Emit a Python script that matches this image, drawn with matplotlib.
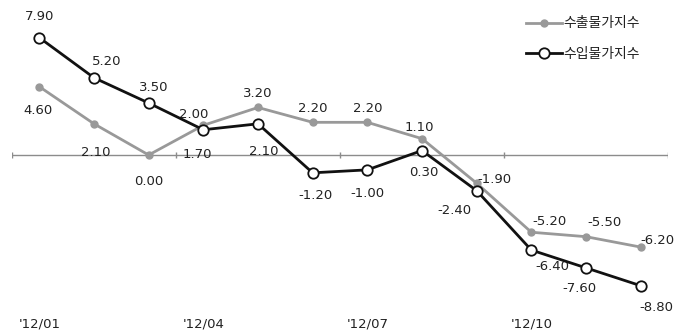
import matplotlib
matplotlib.use("Agg")
import matplotlib.pyplot as plt

plt.rcParams['font.family'] = ['DejaVu Sans', 'Noto Sans CJK KR']

# data
months = ["'12/01", "'12/02", "'12/03", "'12/04", "'12/05", "'12/06",
          "'12/07", "'12/08", "'12/09", "'12/10", "'12/11", "'12/12"]
export_idx = [4.60, 2.10, 0.00, 2.00, 3.20, 2.20, 2.20, 1.10, -1.90, -5.20, -5.50, -6.20]
import_idx = [7.90, 5.20, 3.50, 1.70, 2.10, -1.20, -1.00, 0.30, -2.40, -6.40, -7.60, -8.80]
series_names = ["수출물가지수", "수입물가지수"]

# label offsets in points (dx, dy)
export_off = [(-1, -17), (1, -21), (0, -19), (-7, 8), (0, 10), (0, 10),
              (0, 10), (-2, 8), (13, 3), (13, 8), (13, 10), (12, 5)]
import_off = [(0, 15), (9, 12), (4, 11), (-4, -18), (4, -20), (2, -16),
              (0, -17), (1, -16), (-16, -14), (15, -12), (-5, -15), (11, -16)]

x = list(range(len(months)))
text_color = '#222222'

fig = plt.figure(figsize=(6.77, 3.36), dpi=100)
ax = fig.add_axes([12 / 677, 31 / 336, 656 / 677, 300 / 336])
ax.set_xlim(-0.5, 11.5)
ax.set_ylim(-10.1, 10.1)

for s in ax.spines.values():
    s.set_visible(False)
ax.set_yticks([])

# zero axis with category boundary ticks
ax.axhline(0, color='#8c8c8c', lw=1.0, zorder=1)
ax.vlines([-0.5, 2.5, 5.5, 8.5, 11.5], -0.22, 0.22, color='#8c8c8c', lw=1.0, zorder=1)

ax.plot(x, export_idx, color='#999999', lw=2.0, marker='o', ms=5,
        mfc='#999999', mec='#999999', label=series_names[0], zorder=3)
ax.plot(x, import_idx, color='#111111', lw=2.0, marker='o', ms=7.5,
        mfc='white', mec='#111111', mew=1.3, label=series_names[1], zorder=4)

for xi, v, off in zip(x, export_idx, export_off):
    ax.annotate(f"{v:.2f}", (xi, v), xytext=off, textcoords='offset points',
                ha='center', va='center', fontsize=9.5, color=text_color)
for xi, v, off in zip(x, import_idx, import_off):
    ax.annotate(f"{v:.2f}", (xi, v), xytext=off, textcoords='offset points',
                ha='center', va='center', fontsize=9.5, color=text_color)

ax.set_xticks([0, 3, 6, 9])
ax.set_xticklabels([months[i] for i in [0, 3, 6, 9]], fontsize=9.5, color=text_color)
ax.tick_params(axis='x', length=0, pad=9)

leg = fig.legend(loc='upper right', bbox_to_anchor=(652 / 677, 1 - 4 / 336),
                 frameon=False, handlelength=2.6, handletextpad=0.1,
                 labelspacing=1.2, prop={'family': ['Noto Sans CJK KR'], 'size': 10})
for t in leg.get_texts():
    t.set_color(text_color)

fig.savefig('out.png', dpi=100)
